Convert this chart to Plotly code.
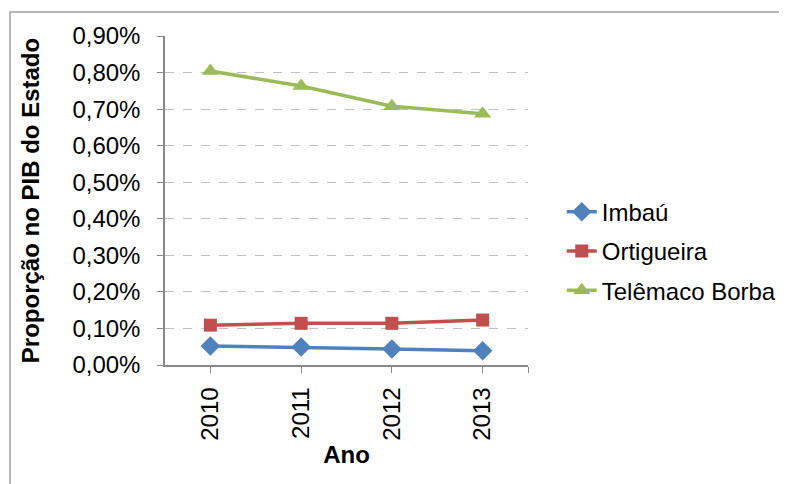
import plotly.graph_objects as go

anos = ["2010", "2011", "2012", "2013"]
imbau = [0.052, 0.049, 0.044, 0.039]
ortigueira = [0.109, 0.114, 0.114, 0.123]
telemaco = [0.804, 0.763, 0.708, 0.687]
y_ticks = [0.0, 0.1, 0.2, 0.3, 0.4, 0.5, 0.6, 0.7, 0.8, 0.9]
y_labels = ["0,00%", "0,10%", "0,20%", "0,30%", "0,40%", "0,50%", "0,60%", "0,70%", "0,80%", "0,90%"]

xs = list(range(len(anos)))
FONT = "Liberation Sans, Arial, sans-serif"
FS = 24

fig = go.Figure()
series = [
    ("Imbaú", imbau, "#4F81BD", "diamond", 15),
    ("Ortigueira", ortigueira, "#C0504D", "square", 13),
    ("Telêmaco Borba", telemaco, "#9BBB59", "triangle-up", 15),
]
for i, (name, vals, col, sym, sz) in enumerate(series):
    fig.add_trace(go.Scatter(
        x=xs, y=vals, name=name, mode="lines+markers",
        line=dict(color=col, width=3.5),
        marker=dict(symbol=sym, size=sz, color=col),
        legendgroup=f"g{i}",
    ))

fig.update_layout(
    width=787, height=484,
    margin=dict(l=157, r=267, t=28, b=127),
    paper_bgcolor="white", plot_bgcolor="white",
    font=dict(family=FONT, size=FS, color="black"),
    showlegend=True,
    legend=dict(x=1.093, y=0.533, xanchor="left", yanchor="top",
                font=dict(size=FS), tracegroupgap=5, bgcolor="rgba(0,0,0,0)"),
    xaxis=dict(
        range=[-0.5, 3.5], tickmode="array",
        tickvals=xs + [3.5], ticktext=anos + [""],
        tickangle=-90, ticks="outside", ticklen=6, tickcolor="#888888",
        ticklabelstandoff=5,
        showline=True, linecolor="#888888", linewidth=1.5,
        showgrid=False, zeroline=False,
        title=dict(text="<b>Ano</b>", font=dict(size=FS), standoff=6),
    ),
    yaxis=dict(
        range=[0, 0.9], tickmode="array", tickvals=y_ticks, ticktext=y_labels,
        ticks="outside", ticklen=6, tickcolor="#888888",
        ticklabelstandoff=12,
        showline=True, linecolor="#888888", linewidth=1.5,
        showgrid=True, gridcolor="#BFBFBF", griddash="dash", gridwidth=1,
        zeroline=False,
        title=dict(text="<b>Proporção no PIB do Estado</b>", font=dict(size=FS), standoff=26),
    ),
    shapes=[dict(type="rect", xref="paper", yref="paper",
                 x0=-0.427, x1=2.0, y0=-1.0, y1=1.073,
                 line=dict(color="#A0A0A0", width=1.5), fillcolor="rgba(0,0,0,0)",
                 layer="below")],
)

fig.write_html("out.html")
